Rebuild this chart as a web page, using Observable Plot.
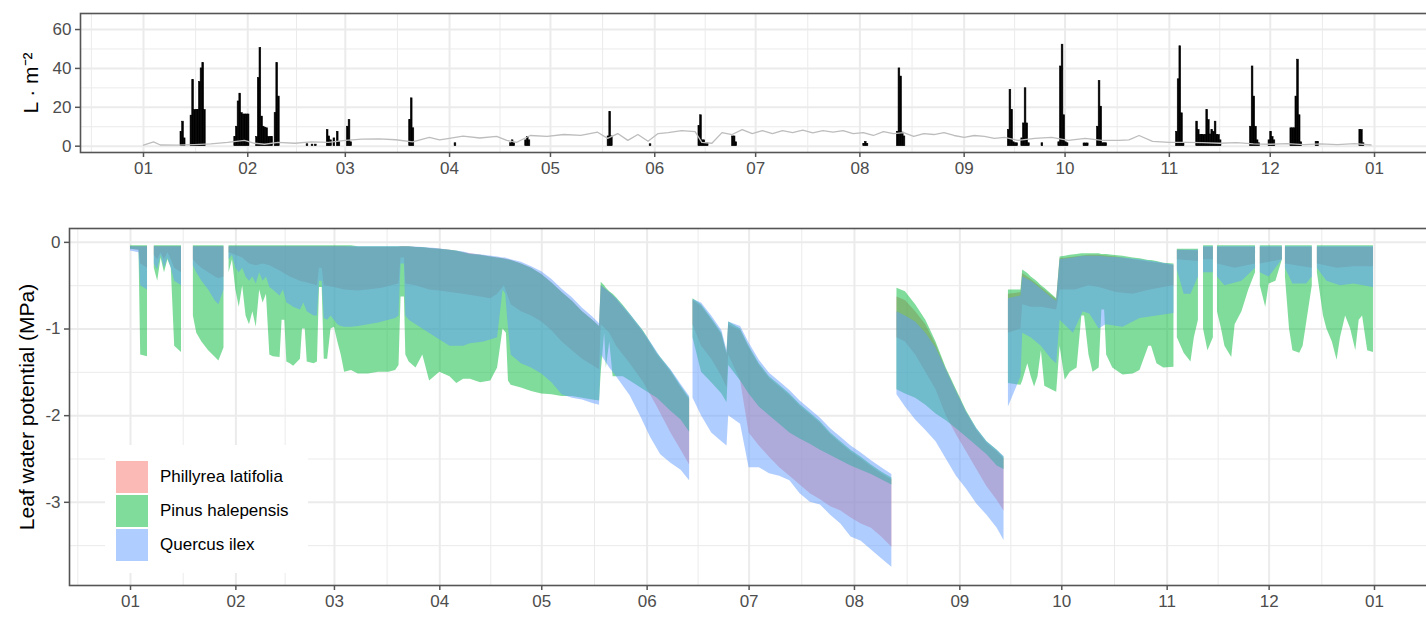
<!DOCTYPE html>
<html><head><meta charset="utf-8">
<script src="https://cdn.jsdelivr.net/npm/d3@7"></script>
<script src="https://cdn.jsdelivr.net/npm/@observablehq/plot@0.6"></script>
<style>
html,body{margin:0;padding:0;background:#fff;overflow:hidden;}
#wrap{position:relative;width:1426px;height:641px;overflow:hidden;font-family:"Liberation Sans",Arial,sans-serif;}
#wrap svg{display:block;max-width:none !important;height:auto;}
#legend{position:absolute;left:105px;top:445px;width:203px;height:128px;background:#fff;}
.key{position:absolute;left:11px;width:32px;height:32px;}
.lab{position:absolute;left:55px;font-size:17px;color:#000;line-height:32px;white-space:nowrap;}
</style></head><body><div id="wrap"></div>
<script>
// ---------- data ----------
const species = ["Phillyrea latifolia", "Pinus halepensis", "Quercus ilex"];
const speciesColors = ["#F8766D", "#00BA38", "#619CFF"];
const precipTicks = [0, 20, 40, 60];
const precipMinor = [10, 30, 50];
const lwpTicks = [0, -1, -2, -3];
const lwpMinor = [-0.5, -1.5, -2.5, -3.5];

// precipitation (day of year 2020, L·m-2) in half-day bins
const precip = [
[11.0,7.4],[11.5,12.6],[12.0,4],
[14.0,15.7],[14.5,34],[15.0,18.6],[15.5,18.6],[16.0,18.6],[16.5,33],[17.0,40],[17.5,42.7],[18.0,18.6],
[27.0,4.7],[27.5,10],[28.0,23],[28.5,27],[29.0,17],[29.5,16.3],[30.0,16.3],[30.5,16.3],[31.0,16.3],
[33.5,4.7],[34.0,35],[34.5,50.5],[35.0,15.2],[35.5,10],[36.0,9.5],[36.5,9.2],[37.0,4.7],[37.5,4.7],[38.0,4.7],[39.0,17],[39.5,42.7],[40.0,25.5],
[48.5,1],[50.0,0.8],[51.0,0.8],
[54.5,8.3],[55.0,5],[55.5,3],[56.5,4],[57.5,7.4],[58.0,2],[60.5,10],[61.0,13.4],[61.5,2],
[79.0,13.4],[79.5,24.6],[80.0,9.2],
[92.5,1.5],
[109.0,1.5],[109.5,3],[110.0,1.5],[113.5,3],[114.0,4.7],[114.5,3],
[138.0,5],[138.5,17.6],[139.0,5],
[150.5,1],
[165.0,10.3],[165.5,15.9],[166.0,3],[166.5,3],[167.0,1.5],[167.5,1.5],
[175.0,5],[175.5,5],[176.0,2],
[214.0,1.2],[214.5,2.2],[215.0,1.2],
[224.0,7.4],[224.5,40],[225.0,35.8],[225.5,7],[226.0,5],
[257.0,8.3],[257.5,29],[258.0,18.6],[258.5,2],[259.0,1.5],[259.5,1.5],
[261.0,4],[261.5,11.7],[262.0,29.8],[262.5,11.7],[263.0,1.5],
[267.0,1.5],
[272.0,2],[272.5,41],[273.0,52.2],[273.5,15.9],[274.0,2],[274.5,1.5],
[279.5,1.4],[280.0,1.4],[280.5,1.4],
[283.5,10],[284.0,33.5],[284.5,20.3],[285.0,1.5],[285.5,1.5],[286.0,1.5],
[307.0,7.4],[307.5,34.4],[308.0,51.4],[308.5,16.9],[309.0,1.5],
[313.0,12.6],[313.5,8.3],[314.0,5.7],[314.5,5.7],[315.0,5.7],[315.5,5.7],[316.0,18.6],[316.5,13.4],[317.0,6],[317.5,8.3],[318.0,7.4],[318.5,12.6],[319.0,5.7],[319.5,5.7],[320.0,3],
[329.0,10],[329.5,41],[330.0,25.5],[330.5,10],[331.0,3],[331.5,1.5],
[334.5,3],[335.0,7.4],[335.5,4.7],[336.0,3],
[341.0,9.2],[341.5,9.2],[342.0,9.2],[342.5,25.5],[343.0,44.5],[343.5,15.9],[344.0,2],
[348.5,2.2],[349.0,2.2],
[361.5,8.3],[362.0,8.3],[362.5,1.5]
];

// evapotranspiration-like grey line (day, L·m-2)
const pet = [[0,0.5],[3,2.2],[5,0.6],[10,0.5],[15,0.8],[20,1.2],[25,2.0],[30,3.0],[33,1.5],[36,1.0],[40,2.0],[45,1.5],[50,2.2],[55,2.0],[60,3.0],[65,3.6],[70,3.8],[75,3.3],[80,2.2],[85,4.5],[88,3.2],[90,3.8],[95,5.2],[100,4.2],[105,5.0],[108,3.0],[111,2.0],[115,5.5],[120,5.0],[125,6.0],[130,5.6],[135,7.2],[138,4.0],[141,6.5],[144,3.0],[147,6.0],[150,2.5],[153,6.5],[156,7.0],[160,8.0],[164,7.5],[166,2.0],[169,1.5],[172,7.0],[175,6.0],[178,8.5],[181,6.5],[184,8.0],[187,6.5],[190,8.0],[193,7.0],[196,8.2],[199,6.8],[202,8.0],[205,7.2],[208,8.0],[211,6.5],[214,7.0],[217,5.5],[220,7.5],[223,6.5],[226,7.0],[229,5.0],[232,6.5],[235,6.0],[238,7.0],[241,5.5],[244,4.5],[247,5.5],[250,5.0],[253,4.0],[256,4.5],[260,3.0],[265,4.0],[270,4.5],[275,3.0],[280,4.0],[285,3.0],[290,3.0],[293,3.2],[296,5.5],[300,2.5],[305,2.0],[310,2.0],[315,1.8],[320,1.5],[325,1.8],[330,1.2],[335,1.0],[340,1.3],[345,0.8],[350,1.2],[355,0.8],[360,1.3],[365,0.6]];

// leaf water potential ranges: [day, min, max] (MPa); null = no data
const phillyrea = [
[0,-0.08,-0.05],[2.5,-0.09,-0.05],[3,-0.25,-0.05],[5,-0.3,-0.05],[5.5,null,null],
[7,-0.15,-0.05],[8,-0.2,-0.05],[9,-0.12,-0.05],[10,-0.2,-0.05],[11,-0.12,-0.05],[12,-0.2,-0.05],[13,-0.3,-0.05],[15,-0.35,-0.05],[16,null,null],
[18.5,-0.2,-0.05],[19.5,-0.25,-0.05],[21,-0.3,-0.05],[23,-0.35,-0.05],[25,-0.4,-0.05],[26,-0.42,-0.05],[27.5,-0.4,-0.05],[28,null,null],
[29,-0.12,-0.05],[31,-0.15,-0.05],[33,-0.18,-0.05],[35,-0.25,-0.05],[37,-0.27,-0.05],[39,-0.25,-0.05],[41,-0.27,-0.05],[44,-0.33,-0.05],[47,-0.4,-0.05],[50,-0.45,-0.05],[52,-0.47,-0.05],[55,-0.5,-0.05],[55.6,-0.3,-0.05],[56.4,-0.3,-0.05],[57,-0.5,-0.05],[60,-0.52,-0.05],[63,-0.55,-0.05],[67,-0.56,-0.06],[70,-0.55,-0.06],[74,-0.53,-0.06],[79,-0.48,-0.06],[79.6,-0.18,-0.05],[80.6,-0.18,-0.05],
[81,-0.48,-0.05],[84,-0.5,-0.06],[88,-0.55,-0.07],[91,-0.56,-0.08],[94,-0.58,-0.09],[98,-0.6,-0.12],[103,-0.63,-0.15],[106,-0.65,-0.17],[108,-0.6,-0.18],[110,-0.5,-0.19],[112,-0.72,-0.21],[115,-0.8,-0.25],[118,-0.85,-0.3],[121,-0.92,-0.37],[124,-1.02,-0.47],[127,-1.15,-0.58],[130,-1.25,-0.68],[133,-1.35,-0.8],[136,-1.42,-0.9],[138,-1.47,-0.97],
[138.5,-0.95,-0.5],[141,-1.05,-0.58],[143,-1.2,-0.66],[147,-1.4,-0.85],[151,-1.62,-1.05],[155,-1.9,-1.3],[159,-2.2,-1.5],[162,-2.4,-1.68],[164.5,-2.57,-1.82],[165,null,null],
[165.5,-0.95,-0.67],[168,-1.2,-0.74],[171,-1.35,-0.9],[174,-1.55,-1.07],[175.5,-1.68,-1.3],[176,-1.3,-0.95],[179.5,-1.6,-1.02],[182,-2.2,-1.22],[185,-2.35,-1.42],[188,-2.48,-1.57],[191,-2.6,-1.67],[194,-2.7,-1.77],[197,-2.8,-1.89],[200,-2.9,-1.99],[203,-2.97,-2.09],[206,-3.05,-2.22],[209,-3.1,-2.32],[212,-3.18,-2.42],[215,-3.25,-2.5],[218,-3.3,-2.59],[221,-3.4,-2.67],[224,-3.52,-2.74],[224.6,null,null],
[225.5,-1.1,-0.63],[228,-1.15,-0.67],[231,-1.3,-0.8],[234,-1.5,-0.95],[237,-1.7,-1.18],[240,-2.0,-1.47],[243,-2.22,-1.72],[246,-2.42,-1.97],[249,-2.62,-2.17],[252,-2.82,-2.32],[255,-2.98,-2.42],[257,-3.1,-2.5],[257.5,null,null],
[258.3,-1.05,-0.6],[262,-1.0,-0.58],[262.5,-0.72,-0.36],[265,-0.75,-0.43],[268,-0.75,-0.52],[272.5,-0.78,-0.66],
[273.5,-0.55,-0.19],[278,-0.55,-0.17],[282,-0.5,-0.15],[285,-0.52,-0.15],[290,-0.58,-0.17],[295,-0.6,-0.2],[300,-0.55,-0.23],[304,-0.52,-0.25],[307,-0.5,-0.27],[307.5,null,null],
[308,-0.2,-0.09],[314.2,-0.22,-0.1],[314.6,null,null],
[315.7,-0.2,-0.06],[318.6,-0.2,-0.06],[319.2,null,null],
[319.8,-0.25,-0.06],[325,-0.3,-0.06],[331,-0.25,-0.06],[331.7,null,null],
[332.4,-0.25,-0.06],[338.9,-0.2,-0.06],[339.3,null,null],
[339.8,-0.25,-0.06],[347.7,-0.3,-0.06],[348.3,null,null],
[349.2,-0.25,-0.06],[355,-0.3,-0.06],[360,-0.28,-0.06],[365.7,-0.28,-0.06]
];

const pinus = [
[0,-0.08,-0.04],[2.5,-0.09,-0.04],[3,-1.3,-0.04],[5,-1.32,-0.04],[5.5,null,null],
[7,-0.3,-0.04],[8,-0.45,-0.04],[9,-0.18,-0.04],[10,-0.35,-0.04],[11,-0.2,-0.04],[12,-0.3,-0.04],[13,-1.2,-0.04],[15,-1.27,-0.04],[16,null,null],
[18.5,-0.85,-0.04],[19.5,-1.05,-0.04],[21,-1.15,-0.04],[23,-1.25,-0.04],[25,-1.33,-0.04],[26,-1.37,-0.04],[27.5,-1.22,-0.04],[28,null,null],
[29,-0.35,-0.04],[30,-0.2,-0.04],[31,-0.55,-0.04],[32,-0.75,-0.04],[33,-0.5,-0.04],[34,-0.85,-0.04],[35,-0.95,-0.04],[36,-0.8,-0.04],[37,-0.98,-0.04],[38,-0.55,-0.04],[39,-0.7,-0.04],[40,-0.6,-0.04],[41,-1.3,-0.04],[42,-1.32,-0.04],[44,-1.33,-0.04],[44.6,-0.9,-0.04],[45.4,-0.9,-0.04],[46,-1.38,-0.04],[47,-1.4,-0.04],[48,-1.43,-0.04],[50,-1.35,-0.04],[50.6,-1.0,-0.04],[51.4,-1.0,-0.04],[52,-1.38,-0.04],[54,-1.4,-0.04],[55,-1.38,-0.04],[55.6,-0.52,-0.04],[56.4,-0.52,-0.04],[57,-1.35,-0.04],[58,-1.35,-0.04],[59,-1.0,-0.04],[60,-0.98,-0.04],[61,-1.15,-0.04],[62,-1.3,-0.04],[63,-1.5,-0.04],[65,-1.48,-0.04],[67,-1.52,-0.05],[70,-1.52,-0.05],[73,-1.5,-0.05],[76,-1.5,-0.05],[78,-1.48,-0.05],[79,-1.42,-0.05],[79.6,-0.63,-0.05],[80.6,-0.63,-0.05],
[81,-1.3,-0.05],[82,-1.38,-0.05],[84,-1.45,-0.06],[86,-1.3,-0.06],[88,-1.6,-0.07],[91,-1.5,-0.08],[94,-1.55,-0.09],[96,-1.63,-0.1],[98,-1.58,-0.12],[100,-1.58,-0.14],[103,-1.62,-0.15],[106,-1.6,-0.17],[108,-1.45,-0.18],[109.6,-1.0,-0.19],[110.6,-1.05,-0.2],[111.2,-1.6,-0.2],[112,-1.65,-0.21],[115,-1.68,-0.25],[118,-1.72,-0.3],[121,-1.75,-0.37],[124,-1.76,-0.47],[127,-1.78,-0.58],[130,-1.78,-0.68],[133,-1.8,-0.8],[136,-1.82,-0.9],[138,-1.83,-0.97],
[138.5,-1.5,-0.46],[139.5,-1.05,-0.5],[140,-1.45,-0.53],[141,-1.15,-0.57],[142,-1.55,-0.6],[143,-1.55,-0.64],[145,-1.55,-0.73],[147,-1.6,-0.83],[151,-1.7,-1.03],[155,-1.8,-1.28],[159,-1.95,-1.48],[162,-2.05,-1.66],[164.5,-2.19,-1.8],[165,null,null],
[165.5,-1.1,-0.65],[168,-1.5,-0.72],[171,-1.62,-0.88],[174,-1.75,-1.05],[175.5,-1.85,-1.28],[176,-1.42,-0.92],[179.5,-1.6,-1.0],[182,-1.75,-1.2],[185,-1.9,-1.4],[188,-2.0,-1.55],[191,-2.1,-1.65],[194,-2.2,-1.75],[197,-2.27,-1.87],[200,-2.33,-1.97],[203,-2.4,-2.07],[206,-2.46,-2.2],[209,-2.52,-2.3],[212,-2.58,-2.4],[215,-2.63,-2.48],[218,-2.68,-2.57],[221,-2.74,-2.65],[224,-2.8,-2.72],[224.6,null,null],
[225.5,-1.7,-0.53],[228,-1.75,-0.57],[231,-1.8,-0.72],[234,-1.88,-0.9],[237,-1.98,-1.15],[240,-2.06,-1.45],[243,-2.15,-1.7],[246,-2.25,-1.95],[249,-2.35,-2.15],[252,-2.45,-2.3],[255,-2.58,-2.4],[257,-2.62,-2.48],[257.5,null,null],
[258.3,-1.63,-0.55],[262,-1.65,-0.55],[262.5,-1.6,-0.32],[264,-1.4,-0.36],[265,-1.55,-0.4],[266,-1.67,-0.43],[267,-1.55,-0.46],[268,-1.25,-0.5],[269,-1.66,-0.53],[271,-1.7,-0.6],[272.5,-1.73,-0.65],[273.5,-1.2,-0.17],[275,-1.59,-0.16],[276.5,-1.5,-0.15],[278.5,-1.45,-0.14],[279.9,-0.85,-0.13],[280.7,-0.85,-0.13],[282,-1.3,-0.13],[283.2,-1.5,-0.13],[285,-1.45,-0.13],[285.8,-0.78,-0.14],[286.6,-0.78,-0.14],[287.2,-1.3,-0.14],[289,-1.45,-0.15],[292,-1.53,-0.16],[295,-1.52,-0.18],[297,-1.48,-0.19],[299.6,-1.2,-0.21],[300.4,-1.2,-0.21],[302,-1.4,-0.22],[304,-1.45,-0.24],[307,-1.44,-0.25],[307.5,null,null],
[308,-1.1,-0.08],[310,-1.28,-0.08],[312,-1.38,-0.08],[313,-1.1,-0.08],[314.2,-0.9,-0.08],[314.6,null,null],
[315.7,-1.0,-0.04],[317,-1.25,-0.04],[318.6,-1.1,-0.04],[319.2,null,null],
[319.8,-0.8,-0.04],[321,-1.0,-0.04],[322,-1.2,-0.04],[324,-1.33,-0.04],[325,-0.95,-0.04],[327,-0.8,-0.04],[329,-0.55,-0.04],[331,-0.35,-0.04],[331.7,null,null],
[332.4,-0.5,-0.04],[334,-0.75,-0.04],[335,-0.48,-0.04],[337,-0.45,-0.04],[338.9,-0.2,-0.04],[339.3,null,null],
[339.8,-0.4,-0.04],[341,-1.0,-0.04],[342,-1.25,-0.04],[344,-1.28,-0.04],[345,-1.2,-0.04],[347.7,-0.5,-0.04],[348.3,null,null],
[349.2,-0.35,-0.04],[351,-0.85,-0.04],[352,-1.0,-0.04],[353.6,-1.15,-0.04],[355,-1.36,-0.04],[356,-1.1,-0.04],[357.5,-0.85,-0.04],[359,-1.0,-0.04],[360.5,-1.25,-0.04],[361.5,-0.9,-0.04],[362.5,-0.85,-0.04],[364,-1.25,-0.04],[365.7,-1.27,-0.04]
];

const quercus = [
[0,-0.1,-0.05],[2.5,-0.12,-0.05],[3,-0.5,-0.05],[5,-0.55,-0.05],[5.5,null,null],
[7,-0.25,-0.05],[8,-0.32,-0.05],[9,-0.15,-0.05],[10,-0.3,-0.05],[11,-0.18,-0.05],[12,-0.3,-0.05],[13,-0.45,-0.05],[15,-0.5,-0.05],[16,null,null],
[18.5,-0.27,-0.05],[19.5,-0.35,-0.05],[21,-0.45,-0.05],[23,-0.55,-0.05],[25,-0.68,-0.05],[26,-0.72,-0.05],[27.5,-0.55,-0.05],[28,null,null],
[29,-0.2,-0.05],[30,-0.15,-0.05],[31,-0.3,-0.05],[32,-0.35,-0.05],[33,-0.3,-0.05],[34,-0.4,-0.05],[35,-0.45,-0.05],[36,-0.4,-0.05],[37,-0.48,-0.05],[38,-0.35,-0.05],[39,-0.45,-0.05],[40,-0.4,-0.05],[41,-0.52,-0.05],[42,-0.55,-0.05],[44,-0.62,-0.05],[45,-0.55,-0.05],[46,-0.7,-0.05],[47,-0.72,-0.05],[48,-0.75,-0.05],[50,-0.78,-0.05],[51,-0.7,-0.05],[52,-0.8,-0.05],[54,-0.85,-0.05],[55,-0.85,-0.05],[55.6,-0.45,-0.05],[56.4,-0.45,-0.05],[57,-0.88,-0.05],[58,-0.9,-0.05],[59,-0.85,-0.05],[60,-0.9,-0.05],[61,-0.95,-0.05],[62,-0.97,-0.05],[63,-0.98,-0.05],[65,-0.98,-0.05],[67,-0.97,-0.05],[70,-0.95,-0.05],[73,-0.93,-0.05],[76,-0.9,-0.05],[78,-0.88,-0.05],[79,-0.85,-0.05],[79.6,-0.25,-0.05],[80.6,-0.25,-0.05],
[81,-0.85,-0.05],[82,-0.9,-0.05],[86,-1.0,-0.06],[90,-1.1,-0.07],[94,-1.2,-0.09],[98,-1.2,-0.11],[100,-1.17,-0.13],[104,-1.15,-0.15],[108,-1.1,-0.17],[109.6,-0.55,-0.18],[110.4,-0.6,-0.18],[111,-0.9,-0.19],[112,-1.3,-0.2],[115,-1.4,-0.23],[118,-1.45,-0.28],[121,-1.52,-0.34],[124,-1.62,-0.43],[127,-1.76,-0.54],[130,-1.8,-0.64],[133,-1.82,-0.76],[136,-1.86,-0.86],[138,-1.88,-0.94],
[138.5,-1.3,-0.5],[141,-1.45,-0.58],[143,-1.55,-0.65],[147,-1.77,-0.83],[150,-2.0,-0.98],[153,-2.25,-1.15],[156,-2.45,-1.33],[159,-2.55,-1.47],[162,-2.63,-1.64],[164.5,-2.75,-1.78],[165,null,null],
[165.5,-1.8,-0.66],[168,-2.0,-0.7],[171,-2.2,-0.85],[174,-2.3,-1.02],[175.5,-2.35,-1.25],[176,-2.0,-0.92],[179.5,-2.1,-0.97],[182,-2.6,-1.16],[185,-2.6,-1.36],[188,-2.67,-1.51],[191,-2.7,-1.61],[194,-2.75,-1.71],[197,-2.9,-1.83],[200,-3.0,-1.93],[203,-3.03,-2.03],[206,-3.15,-2.15],[209,-3.25,-2.25],[212,-3.4,-2.35],[215,-3.45,-2.43],[218,-3.55,-2.52],[221,-3.65,-2.6],[224,-3.75,-2.68],[224.6,null,null],
[225.5,-1.76,-0.8],[228,-1.9,-0.85],[231,-2.05,-0.92],[234,-2.17,-1.05],[237,-2.3,-1.22],[240,-2.5,-1.47],[243,-2.7,-1.72],[246,-2.85,-1.96],[249,-3.02,-2.15],[252,-3.15,-2.3],[255,-3.3,-2.4],[257,-3.44,-2.47],[257.5,null,null],
[258.3,-1.9,-0.65],[262,-1.55,-0.62],[262.5,-1.05,-0.4],[265,-1.1,-0.45],[268,-1.2,-0.54],[271,-1.35,-0.64],[272.5,-1.4,-0.68],[273.5,-0.9,-0.2],[277.4,-1.05,-0.18],[280.3,-0.8,-0.16],[282.3,-0.83,-0.16],[285,-1.0,-0.16],[287,-0.95,-0.17],[292,-0.98,-0.18],[297,-0.88,-0.2],[302,-0.85,-0.23],[307,-0.82,-0.26],[307.5,null,null],
[308,-0.32,-0.09],[310,-0.6,-0.09],[312,-0.6,-0.09],[314.2,-0.4,-0.09],[314.6,null,null],
[315.7,-0.35,-0.05],[318.6,-0.35,-0.05],[319.2,null,null],
[319.8,-0.4,-0.05],[322,-0.5,-0.05],[327,-0.45,-0.05],[331,-0.3,-0.05],[331.7,null,null],
[332.4,-0.35,-0.05],[335,-0.4,-0.05],[338.9,-0.2,-0.05],[339.3,null,null],
[339.8,-0.3,-0.05],[342,-0.48,-0.05],[346,-0.48,-0.05],[347.7,-0.4,-0.05],[348.3,null,null],
[349.2,-0.3,-0.05],[352,-0.45,-0.05],[356,-0.5,-0.05],[360,-0.48,-0.05],[365.7,-0.52,-0.05]
];

// ---------- helpers ----------
const BASE = Date.UTC(2020, 0, 1);
const day = d => new Date(BASE + d * 864e5);
const monthDates = d3.utcMonth.range(day(0), day(367));
const allMonths = d3.utcMonth.range(new Date(Date.UTC(2019, 11, 1)), new Date(Date.UTC(2021, 1, 2)));
const minorDates = d3.pairs(allMonths).map(([a, b]) => new Date((+a + +b) / 2));
const FONT = '"Liberation Sans", Arial, sans-serif';
const fmtMonth = d3.utcFormat("%m");
const FRAME = "#555";

function gridMarks(domain, majorY, minorY) {
  const inX = minorDates.filter(d => d >= domain[0] && d <= domain[1]);
  return [
    Plot.ruleX(inX, {stroke: "#ebebeb", strokeWidth: 1}),
    Plot.ruleY(minorY, {stroke: "#ebebeb", strokeWidth: 1}),
    Plot.ruleX(monthDates, {stroke: "#ebebeb", strokeWidth: 2}),
    Plot.ruleY(majorY, {stroke: "#ebebeb", strokeWidth: 2})
  ];
}
const svgStyle = {fontFamily: FONT, fontSize: "17px", background: "transparent", overflow: "visible", maxWidth: "none"};
const axisOpts = {tickSize: 5, tickPadding: 4, stroke: FRAME, fill: "#4d4d4d", strokeWidth: 1.5, fontSize: 17, label: null};

// ---------- top panel ----------
const topDomain = [day(-18.73), day(366 + 18.73)];
const topPlot = Plot.plot({
  width: 1437, height: 190,
  marginLeft: 80, marginRight: 0, marginTop: 13, marginBottom: 38,
  style: svgStyle,
  x: {type: "utc", domain: topDomain},
  y: {domain: [-3.25, 68.25]},
  marks: [
    ...gridMarks(topDomain, precipTicks, precipMinor),
    Plot.rectY(precip, {x1: d => day(d[0]), x2: d => day(d[0] + 0.5), y1: 0, y2: d => d[1], fill: "#000", stroke: "#000", strokeWidth: 0.6, inset: 0}),
    Plot.line(pet, {x: d => day(d[0]), y: d => d[1], stroke: "#bdbdbd", strokeWidth: 1.3}),
    Plot.frame({stroke: FRAME, strokeWidth: 1.6}),
    Plot.axisX({...axisOpts, ticks: monthDates, tickFormat: fmtMonth}),
    Plot.axisY({...axisOpts, ticks: precipTicks, tickFormat: d => String(d)}),
    Plot.text(["L · m⁻²"], {frameAnchor: "left", textAnchor: "middle", lineAnchor: "middle", rotate: -90, dx: -49, fontSize: 21, fill: "#000"})
  ]
});

// ---------- bottom panel ----------
const botDomain = [day(-17.95), day(366 + 17.95)];
const sets = [phillyrea, pinus, quercus];
const botPlot = Plot.plot({
  width: 1435, height: 451,
  marginLeft: 69, marginRight: 0, marginTop: 38, marginBottom: 56,
  style: svgStyle,
  x: {type: "utc", domain: botDomain},
  y: {domain: [-3.96, 0.16]},
  marks: [
    ...gridMarks(botDomain, lwpTicks, lwpMinor),
    ...sets.map((rows, i) => Plot.areaY(rows, {
      x: d => day(d[0]), y1: d => d[1], y2: d => d[2],
      fill: speciesColors[i], fillOpacity: 0.5
    })),
    Plot.frame({stroke: FRAME, strokeWidth: 1.6}),
    Plot.axisX({...axisOpts, ticks: monthDates, tickFormat: fmtMonth}),
    Plot.axisY({...axisOpts, ticks: lwpTicks, tickFormat: d => String(d)}),
    Plot.text(["Leaf water potential (MPa)"], {frameAnchor: "left", textAnchor: "middle", lineAnchor: "middle", rotate: -90, dx: -42, fontSize: 21, fill: "#000"})
  ]
});

const wrap = document.getElementById("wrap");
wrap.appendChild(topPlot);
wrap.appendChild(botPlot);

// ---------- legend ----------
const legend = document.createElement("div");
legend.id = "legend";
species.forEach((name, i) => {
  const key = document.createElement("div");
  key.className = "key";
  key.style.top = (16 + i * 34) + "px";
  key.style.background = speciesColors[i];
  key.style.opacity = 0.5;
  legend.appendChild(key);
  const lab = document.createElement("div");
  lab.className = "lab";
  lab.style.top = (16 + i * 34) + "px";
  lab.textContent = name;
  legend.appendChild(lab);
});
wrap.appendChild(legend);
</script></body></html>
